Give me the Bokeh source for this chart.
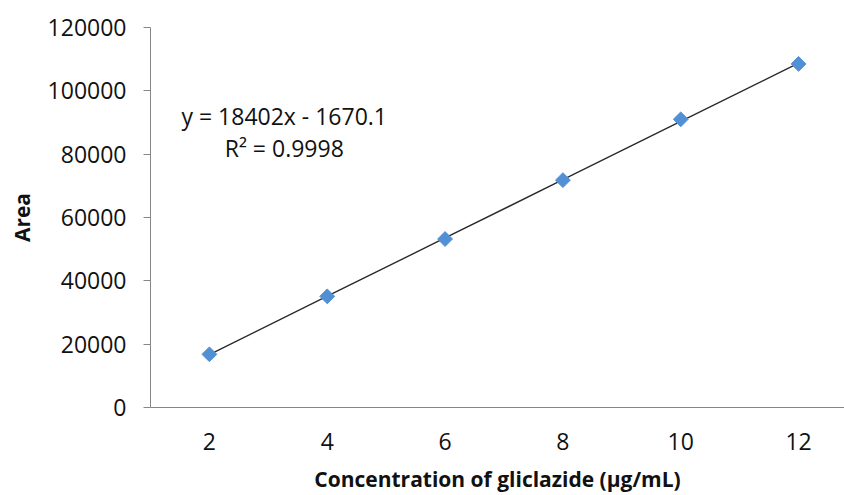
import math
from bokeh.plotting import figure
from bokeh.models import Range1d, FixedTicker, Label
from bokeh.embed import file_html
from bokeh.resources import INLINE

# Data
concentration = [2, 4, 6, 8, 10, 12]          # µg/mL (category labels)
point_index = [1, 2, 3, 4, 5, 6]              # Excel trendline x (category index)
area = [16800, 35100, 53200, 71800, 91000, 108500]
slope = 18402
intercept = -1670.1
y_ticks = [0, 20000, 40000, 60000, 80000, 100000, 120000]
equation_text = "y = 18402x - 1670.1"
r2_text = "R² = 0.9998"

FONT = "Open Sans"
TEXT = "#111111"
AXIS = "#868686"

p = figure(width=844, height=495, output_backend="svg", toolbar_location=None,
           x_range=Range1d(1.0, 12.78), y_range=Range1d(0, 120000),
           min_border_left=150, min_border_right=0, min_border_top=27,
           min_border_bottom=88)
p.outline_line_color = None
p.xgrid.grid_line_color = None
p.ygrid.grid_line_color = None

# trend line computed from the displayed regression
trend_y = [slope * i + intercept for i in point_index]
p.line(concentration, trend_y, line_color="#2a2a2a", line_width=1.4)

p.scatter(concentration, area, marker="square", size=10.5, angle=math.pi / 4,
          fill_color="#5290D6", line_color="#5290D6", line_width=1)

# axes
p.yaxis.ticker = FixedTicker(ticks=y_ticks)
p.yaxis.major_label_overrides = {t: str(t) for t in y_ticks}
p.yaxis.axis_line_color = AXIS
p.yaxis.major_tick_line_color = AXIS
p.yaxis.major_tick_out = 7
p.yaxis.major_tick_in = 0
p.yaxis.minor_tick_line_color = None
p.yaxis.major_label_standoff = 17
p.yaxis.major_label_text_font = FONT
p.yaxis.major_label_text_font_size = "23px"
p.yaxis.major_label_text_color = TEXT
p.yaxis.axis_label = "Area"
p.yaxis.axis_label_text_font = FONT
p.yaxis.axis_label_text_font_style = "bold"
p.yaxis.axis_label_text_font_size = "21px"
p.yaxis.axis_label_text_color = TEXT
p.yaxis.axis_label_standoff = 9

p.xaxis.ticker = FixedTicker(ticks=concentration)
p.xaxis.major_label_overrides = {c: str(c) for c in concentration}
p.xaxis.axis_line_color = AXIS
p.xaxis.major_tick_line_color = None
p.xaxis.major_tick_out = 0
p.xaxis.major_tick_in = 0
p.xaxis.minor_tick_line_color = None
p.xaxis.major_label_standoff = 25
p.xaxis.major_label_text_font = FONT
p.xaxis.major_label_text_font_size = "23px"
p.xaxis.major_label_text_color = TEXT
p.xaxis.axis_label = "Concentration of gliclazide (µg/mL)"
p.xaxis.axis_label_text_font = FONT
p.xaxis.axis_label_text_font_style = "bold"
p.xaxis.axis_label_text_font_size = "21px"
p.xaxis.axis_label_text_color = TEXT
p.xaxis.axis_label_standoff = 12

p.add_layout(Label(x=3.27, y=92200, text=equation_text, text_align="center",
                   text_baseline="middle", text_font=FONT,
                   text_font_size="23px", text_color=TEXT))
p.add_layout(Label(x=3.27, y=82100, text=r2_text, text_align="center",
                   text_baseline="middle", text_font=FONT,
                   text_font_size="23px", text_color=TEXT))

open("out.html", "w").write(file_html(p, INLINE))
